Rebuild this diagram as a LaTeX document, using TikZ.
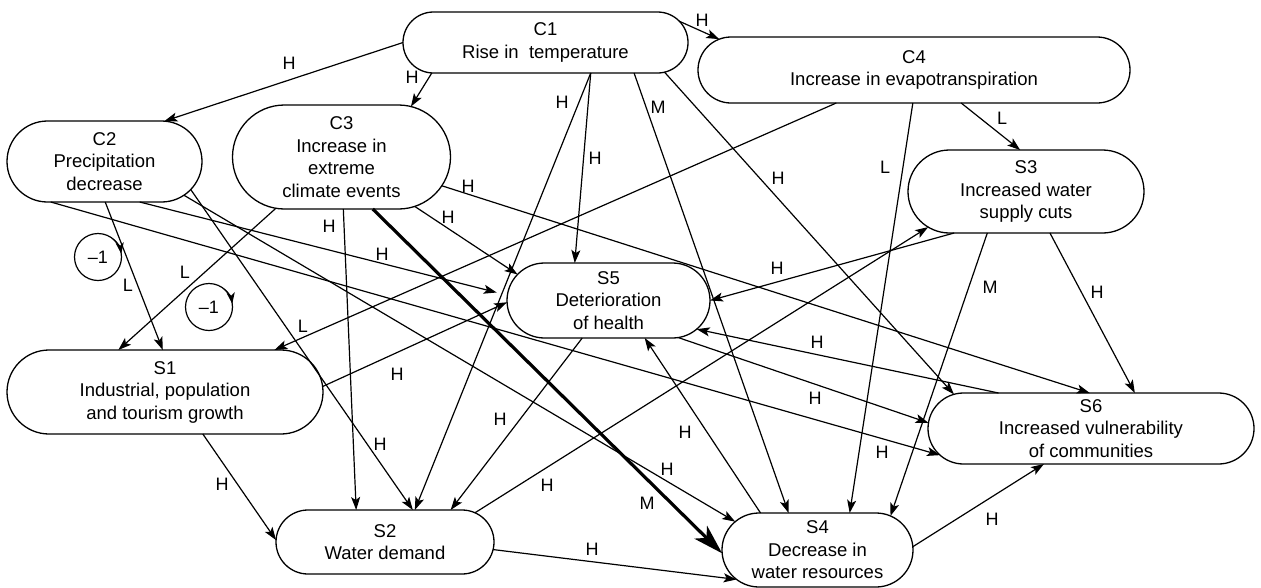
\documentclass[tikz,border=0pt]{standalone}
\usepackage{fontspec}
\setmainfont{Liberation Sans}
\usetikzlibrary{shapes.misc,arrows.meta}

\begin{document}
\begin{tikzpicture}[x=1pt,y=-1pt,
  box/.style={rounded rectangle, draw, line width=1.3pt, inner sep=0pt, outer sep=0pt,
    align=center, font=\fontsize{18.5}{22.5}\selectfont},
  lbl/.style={inner sep=0pt, font=\fontsize{18}{18}\selectfont},
  arr/.style={line width=1.2pt, -{Stealth[length=13pt,width=9pt,inset=3pt]}},
  big/.style={line width=3.2pt, -{Stealth[length=30pt,width=18pt,inset=8pt]}},
  fb/.style={circle, draw, line width=1.2pt, minimum size=47pt, inner sep=0pt, outer sep=0pt,
    font=\fontsize{18}{18}\selectfont},
  fbarr/.style={line width=1.2pt, -{Stealth[length=11pt,width=8pt,inset=3pt]}}
]
\useasboundingbox (0,0) rectangle (1261,587);

% causes
\node[box, minimum width=285pt, minimum height=61pt] (c1) at (545.5,42.5) {C1\\Rise in~ temperature};
\node[box, minimum width=432pt, minimum height=66pt] (c4) at (914,70) {C4\\Increase in evapotranspiration};
\node[box, minimum width=195pt, minimum height=81pt] (c2) at (104.5,161.5) {C2\\Precipitation\\decrease};
\node[box, minimum width=218pt, minimum height=104pt] (c3) at (341.5,157) {C3\\Increase in\\extreme\\climate events};

% states
\node[box, minimum width=236pt, minimum height=83pt] (s3) at (1026,191.5) {S3\\Increased water\\supply cuts};
\node[box, minimum width=203pt, minimum height=75pt] (s5) at (608.5,300.5) {S5\\Deterioration\\of health};
\node[box, minimum width=316pt, minimum height=84pt] (s1) at (165,392) {S1\\Industrial, population\\and tourism growth};
\node[box, minimum width=326pt, minimum height=71pt] (s6) at (1091,428.5) {S6\\Increased vulnerability\\of communities};
\node[box, minimum width=218pt, minimum height=64pt] (s2) at (385,542) {S2\\Water demand};
\node[box, minimum width=191pt, minimum height=74pt] (s4) at (817.5,550) {S4\\Decrease in\\water resources};

% negative feedback loops
\node[fb] (fb1) at (98,257) {\textendash1};
\draw[fbarr] (fb1.50) arc[start angle=50, end angle=8, radius=23.5pt];
\node[fb] (fb2) at (209,307) {\textendash1};
\draw[fbarr] (fb2.50) arc[start angle=50, end angle=8, radius=23.5pt];

% links from C1
\draw[arr] (c1.180) -- (c2.34);
\draw[arr] (c1.-165) -- (c3.36);
\draw[arr] (c1.9) -- (c4.171);
\draw[arr] (c1.-34) -- (s2.47);
\draw[arr] (c1.-34) -- (s5.132);
\draw[arr] (c1.-19) -- (s4.128);
\draw[arr] (c1.-14) -- (s6.166);
% links from C4
\draw[arr] (c4.-35) -- (s3.98);
\draw[arr] (c4.-92) -- (s4.49);
\draw[arr] (c4.-157) -- (s1.21);
% links from C2
\draw[arr] (c2.-89) -- (s1.93);
\draw[arr, shorten >=11pt] (c2.-49) -- (s5.177);
\draw[arr] (c2.-143) -- (s6.-170);
\draw[arr] (c2.-23) -- (s4.161);
\draw[arr] (c2.-18) -- (s2.49);
% links from C3
\draw[arr] (c3.-142) -- (s1.138);
\draw[arr] (c3.-88) -- (s2.132);
\draw[arr] (c3.-34) -- (s5.164);
\draw[big] (c3.-59) -- (s4.182);
\draw[arr] (c3.-16) -- (s6.92);
% links between states
\draw[arr] (s1.2) -- (s5.181);
\draw[arr] (s1.-48) -- (s2.179);
\draw[arr] (s2.18) -- (s3.-160);
\draw[arr] (s2.-4) -- (s4.-160);
\draw[arr] (s5.-125) -- (s2.26);
\draw[arr] (s5.-28) -- (s6.178);
\draw[arr] (s6.159) -- (s5.-18);
\draw[arr] (s4.147) -- (s5.-46);
\draw[arr] (s4.2) -- (s6.-143);
\draw[arr] (s3.-150) -- (s5.0);
\draw[arr] (s3.-133) -- (s4.25);
\draw[arr] (s3.-60) -- (s6.39);

% link strengths
\node[lbl] (l1) at (289,63) {H};
\node[lbl] (l2) at (412,77) {H};
\node[lbl] (l3) at (702,20) {H};
\node[lbl] (l4) at (562,102) {H};
\node[lbl] (l5) at (595,158) {H};
\node[lbl] (l6) at (658,107) {M};
\node[lbl] (l7) at (778,178) {H};
\node[lbl] (l8) at (1002,118) {L};
\node[lbl] (l9) at (885,167) {L};
\node[lbl] (l10) at (303,326) {L};
\node[lbl] (l11) at (128,285) {L};
\node[lbl] (l12) at (382,254) {H};
\node[lbl] (l13) at (882,452) {H};
\node[lbl] (l14) at (667,469) {H};
\node[lbl] (l15) at (380,444) {H};
\node[lbl] (l16) at (185,272) {L};
\node[lbl] (l17) at (329,226) {H};
\node[lbl] (l18) at (448,217) {H};
\node[lbl] (l19) at (647,503) {M};
\node[lbl] (l20) at (468,186) {H};
\node[lbl] (l21) at (397,374) {H};
\node[lbl] (l22) at (222,484) {H};
\node[lbl] (l23) at (547,485) {H};
\node[lbl] (l24) at (592,549) {H};
\node[lbl] (l25) at (500,419) {H};
\node[lbl] (l26) at (815,398) {H};
\node[lbl] (l27) at (817,342) {H};
\node[lbl] (l28) at (685,432) {H};
\node[lbl] (l29) at (992,519) {H};
\node[lbl] (l30) at (777,268) {H};
\node[lbl] (l31) at (990,287) {M};
\node[lbl] (l32) at (1097,292) {H};
\end{tikzpicture}
\end{document}
